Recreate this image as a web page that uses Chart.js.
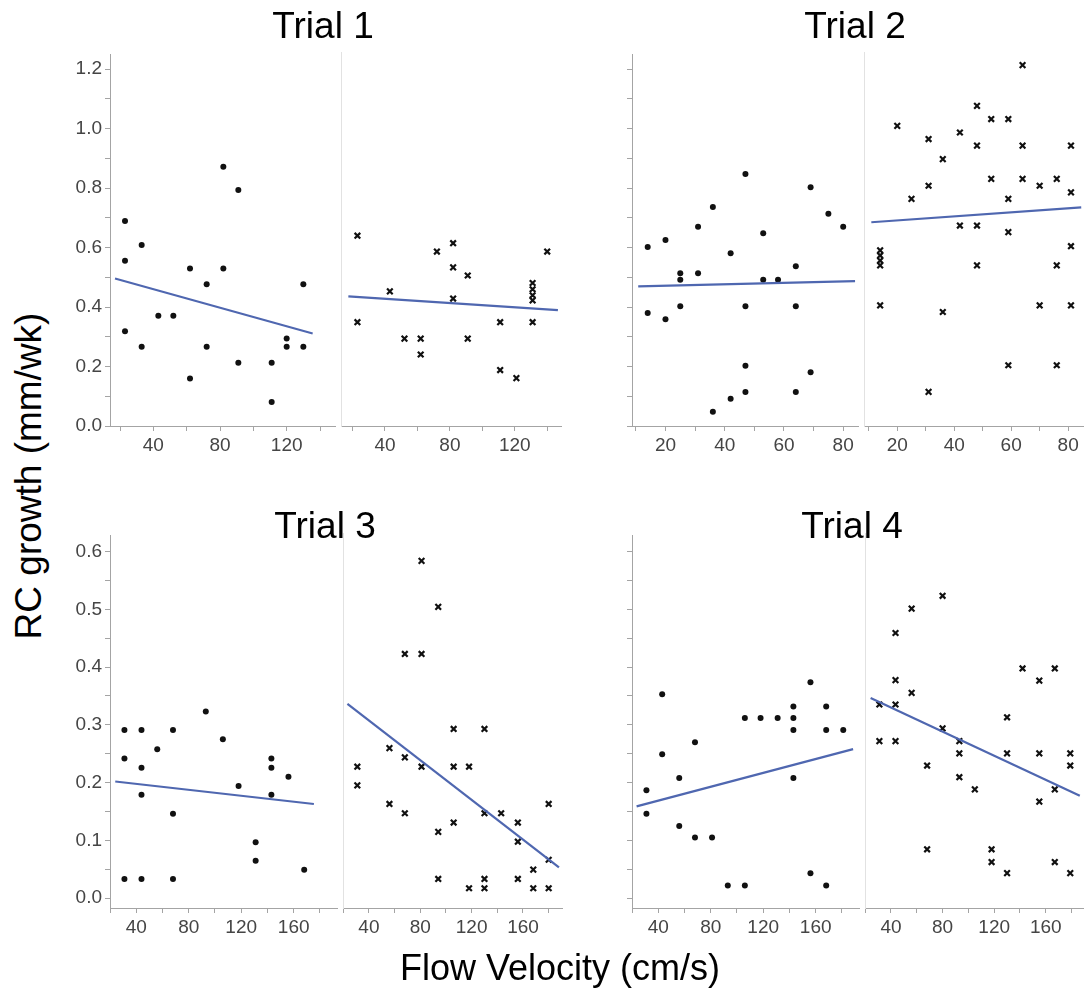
<!DOCTYPE html>
<html>
<head>
<meta charset="utf-8">
<script src="https://cdn.jsdelivr.net/npm/chart.js@4.4.0/dist/chart.umd.min.js"></script>
<style>
  body { margin: 0; background: #fff; }
  #wrap { position: relative; width: 1084px; height: 990px; overflow: hidden; background: #fff;
          font-family: "Liberation Sans", Arial, sans-serif; }
  .txt { position: absolute; color: #000; white-space: nowrap; line-height: 1; z-index: 2; }
  canvas { position: absolute; z-index: 1; }
</style>
</head>
<body>
<div id="wrap">
  <div class="txt" style="left:323px;top:7px;font-size:37px;transform:translateX(-50%)">Trial 1</div>
  <div class="txt" style="left:855px;top:7px;font-size:37px;transform:translateX(-50%)">Trial 2</div>
  <div class="txt" style="left:325px;top:507px;font-size:37px;transform:translateX(-50%)">Trial 3</div>
  <div class="txt" style="left:852px;top:507px;font-size:37px;transform:translateX(-50%)">Trial 4</div>
  <div class="txt" style="left:28px;top:476px;font-size:37px;transform:translate(-50%,-50%) rotate(-90deg)">RC growth (mm/wk)</div>
  <div class="txt" style="left:560px;top:968px;font-size:36px;transform:translate(-50%,-50%)">Flow Velocity (cm/s)</div>
</div>
<script>
// Trial 1
var t1DotX = [23,23,23,33,33,43,52,62,62,72,72,82,82,91,91,111,111,120,120,130,130];
var t1DotY = [0.69,0.556,0.319,0.609,0.267,0.371,0.371,0.53,0.16,0.477,0.267,0.872,0.53,0.794,0.213,0.213,0.081,0.294,0.267,0.477,0.267];
var t1DotFitX = [17, 135.6];
var t1DotFitY = [0.496, 0.311];
var t1CrossX = [23,23,43,52,62,62,72,82,82,82,91,91,111,111,121,131,131,131,131,131,140];
var t1CrossY = [0.636,0.347,0.45,0.292,0.292,0.239,0.583,0.611,0.53,0.426,0.503,0.292,0.347,0.187,0.16,0.478,0.457,0.437,0.42,0.347,0.583];
var t1CrossFitX = [17.4, 146.6];
var t1CrossFitY = [0.433, 0.387];

// Trial 2
var t2DotX = [14,14,20,20,25,25,25,31,31,36,36,42,42,47,47,47,47,53,53,58,64,64,64,69,69,75,80];
var t2DotY = [0.602,0.38,0.626,0.359,0.514,0.492,0.403,0.67,0.514,0.737,0.048,0.581,0.092,0.848,0.403,0.203,0.114,0.648,0.492,0.492,0.537,0.403,0.114,0.803,0.181,0.714,0.67];
var t2DotFitX = [10.8, 84];
var t2DotFitY = [0.47, 0.487];
var t2CrossX = [64,48,53,59,20,42,31,48,64,81,36,53,64,76,31,70,81,25,59,42,48,59,81,14,14,14,14,48,76,14,70,81,36,59,76,31];
var t2CrossY = [1.206,1.07,1.026,1.026,1.003,0.981,0.959,0.937,0.937,0.937,0.892,0.826,0.826,0.826,0.803,0.803,0.781,0.759,0.759,0.67,0.67,0.648,0.601,0.587,0.57,0.553,0.537,0.537,0.537,0.403,0.403,0.403,0.381,0.203,0.203,0.114];
var t2CrossFitX = [10.9, 84.6];
var t2CrossFitY = [0.681, 0.731];

// Trial 3
var t3DotX = [31,31,31,44,44,44,44,56,68,68,68,93,106,118,131,131,143,143,143,156,168];
var t3DotY = [0.291,0.242,0.033,0.291,0.226,0.179,0.033,0.258,0.291,0.146,0.033,0.323,0.275,0.194,0.097,0.065,0.242,0.226,0.179,0.21,0.049];
var t3DotFitX = [24, 175.4];
var t3DotFitY = [0.202, 0.163];
var t3CrossX = [81,94,68,81,106,130,56,68,31,81,106,118,31,56,68,130,143,106,156,94,156,180,180,168,94,130,156,118,130,168,180];
var t3CrossY = [0.58,0.501,0.42,0.42,0.291,0.291,0.258,0.242,0.226,0.226,0.226,0.226,0.194,0.162,0.146,0.146,0.146,0.13,0.13,0.114,0.097,0.162,0.066,0.049,0.033,0.033,0.033,0.017,0.017,0.017,0.017];
var t3CrossFitX = [23.3, 188];
var t3CrossFitY = [0.334, 0.053];

// Trial 4
var t4DotX = [31,31,43,43,56,56,68,68,81,93,106,106,118,131,143,143,143,143,156,156,168,168,168,181];
var t4DotY = [0.187,0.146,0.353,0.249,0.208,0.125,0.27,0.105,0.105,0.022,0.022,0.312,0.312,0.312,0.332,0.312,0.291,0.208,0.374,0.043,0.332,0.291,0.022,0.291];
var t4DotFitX = [23.5, 188.5];
var t4DotFitY = [0.159, 0.258];
var t4CrossX = [80,56,43.5,43.5,56,31,43.5,31,43.5,80,93,93,68,93,105,68,118,118,130,130,130,142,155,167,155,155,167,167,179,179,179];
var t4CrossY = [0.52,0.498,0.456,0.375,0.353,0.333,0.333,0.27,0.27,0.292,0.27,0.249,0.228,0.208,0.187,0.084,0.084,0.062,0.043,0.311,0.249,0.395,0.374,0.395,0.249,0.166,0.187,0.062,0.249,0.228,0.043];
var t4CrossFitX = [24.2, 186.4];
var t4CrossFitY = [0.344, 0.176];

// ticks
var yTicksTop = [0,0.1,0.2,0.3,0.4,0.5,0.6,0.7,0.8,0.9,1.0,1.1,1.2];
var yLabelsTop = ['0.0','','0.2','','0.4','','0.6','','0.8','','1.0','','1.2'];
var yTicksBottom = [0,0.05,0.1,0.15,0.2,0.25,0.3,0.35,0.4,0.45,0.5,0.55,0.6];
var yLabelsBottom = ['0.0','','0.1','','0.2','','0.3','','0.4','','0.5','','0.6'];
var xTicksT1 = [20,40,60,80,100,120,140];
var xLabelsT1 = ['','40','','80','','120',''];
var xTicksT2 = [10,20,30,40,50,60,70,80];
var xLabelsT2 = ['','20','','40','','60','','80'];
var xTicksT34 = [20,40,60,80,100,120,140,160,180];
var xLabelsT34 = ['','40','','80','','120','','160',''];

var FONT = '"Liberation Sans", Arial, sans-serif';
var AXIS = '#a4a4a4';
var DIVIDER = '#e2e2e2';

var panels = [
  {area:[110,335,52,426], xr:[14,149], yr:[0,1.25], xt:xTicksT1, xl:xLabelsT1, yt:yTicksTop, yl:yLabelsTop, ymode:'labels', xs:t1DotX, ys:t1DotY, mk:'dot', fx:t1DotFitX, fy:t1DotFitY},
  {area:[335,562,52,426], xr:[13,149], yr:[0,1.25], xt:xTicksT1, xl:xLabelsT1, ymode:'divider', xs:t1CrossX, ys:t1CrossY, mk:'cross', fx:t1CrossFitX, fy:t1CrossFitY},
  {area:[632,858,52,426], xr:[8.7,85], yr:[0,1.25], xt:xTicksT2, xl:xLabelsT2, yt:yTicksTop, yl:yLabelsTop, ymode:'ticks', xs:t2DotX, ys:t2DotY, mk:'dot', fx:t2DotFitX, fy:t2DotFitY},
  {area:[858,1084,52,426], xr:[8.4,85.5], yr:[0,1.25], xt:xTicksT2, xl:xLabelsT2, ymode:'divider', xs:t2CrossX, ys:t2CrossY, mk:'cross', fx:t2CrossFitX, fy:t2CrossFitY},
  {area:[110,337,533,908], xr:[20,193], yr:[-0.017,0.628], xt:xTicksT34, xl:xLabelsT34, yt:yTicksBottom, yl:yLabelsBottom, ymode:'labels', xs:t3DotX, ys:t3DotY, mk:'dot', fx:t3DotFitX, fy:t3DotFitY},
  {area:[337,563,533,908], xr:[20,191], yr:[-0.017,0.628], xt:xTicksT34, xl:xLabelsT34, ymode:'divider', xs:t3CrossX, ys:t3CrossY, mk:'cross', fx:t3CrossFitX, fy:t3CrossFitY},
  {area:[632,859,533,908], xr:[20,193], yr:[-0.017,0.628], xt:xTicksT34, xl:xLabelsT34, yt:yTicksBottom, yl:yLabelsBottom, ymode:'ticks', xs:t4DotX, ys:t4DotY, mk:'dot', fx:t4DotFitX, fy:t4DotFitY},
  {area:[859,1084,533,908], xr:[20,189.5], yr:[-0.017,0.628], xt:xTicksT34, xl:xLabelsT34, ymode:'divider', xs:t4CrossX, ys:t4CrossY, mk:'cross', fx:t4CrossFitX, fy:t4CrossFitY}
];

function makePanel(p) {
  var yW = p.ymode == 'labels' ? 60 : (p.ymode == 'ticks' ? 8 : 0);
  var padT = 12, padR = 6, xH = 42;
  var a = p.area;
  var cv = document.createElement('canvas');
  cv.width = (a[1] - a[0]) + yW + padR;
  cv.height = (a[3] - a[2]) + padT + xH;
  cv.style.left = (a[0] - yW) + 'px';
  cv.style.top = (a[2] - padT) + 'px';
  document.getElementById('wrap').appendChild(cv);

  var yScale;
  if (p.ymode == 'divider') {
    yScale = {
      type: 'linear', min: p.yr[0], max: p.yr[1],
      afterFit: function (s) { s.width = 0; },
      ticks: { display: false },
      grid: { display: false },
      border: { color: DIVIDER, width: 1 }
    };
  } else {
    yScale = {
      type: 'linear', min: p.yr[0], max: p.yr[1],
      afterBuildTicks: function (s) { s.ticks = p.yt.map(function (v) { return { value: v }; }); },
      afterFit: function (s) { s.width = yW; },
      ticks: {
        autoSkip: false, padding: 3, color: '#454545',
        font: { size: 19, family: FONT },
        callback: function (v, i) { return p.ymode == 'labels' ? p.yl[i] : ''; }
      },
      grid: { drawOnChartArea: false, tickLength: 5, tickColor: AXIS },
      border: { color: AXIS, width: 1 }
    };
  }

  var cross = p.mk == 'cross';
  new Chart(cv, {
    type: 'scatter',
    data: {
      datasets: [{
        data: p.xs.map(function (x, i) { return { x: x, y: p.ys[i] }; }),
        pointStyle: cross ? 'crossRot' : 'circle',
        pointRadius: cross ? 4 : 3,
        borderColor: '#111',
        backgroundColor: '#111',
        borderWidth: cross ? 2.2 : 0,
        order: 2
      }, {
        data: p.fx.map(function (x, i) { return { x: x, y: p.fy[i] }; }),
        showLine: true,
        borderColor: '#4f67b0',
        borderWidth: 2.2,
        pointRadius: 0,
        order: 1
      }]
    },
    options: {
      responsive: false,
      animation: false,
      devicePixelRatio: 1,
      layout: { padding: { top: padT, right: padR, left: 0, bottom: 0 } },
      plugins: { legend: { display: false }, tooltip: { enabled: false } },
      scales: {
        x: {
          type: 'linear', min: p.xr[0], max: p.xr[1],
          afterBuildTicks: function (s) { s.ticks = p.xt.map(function (v) { return { value: v }; }); },
          afterFit: function (s) { s.height = xH; },
          ticks: {
            autoSkip: false, maxRotation: 0, padding: 3, color: '#454545',
            font: { size: 19, family: FONT },
            callback: function (v, i) { return p.xl[i]; }
          },
          grid: { drawOnChartArea: false, tickLength: 5, tickColor: AXIS },
          border: { color: AXIS, width: 1 }
        },
        y: yScale
      }
    }
  });
}

panels.forEach(makePanel);
</script>
</body>
</html>
